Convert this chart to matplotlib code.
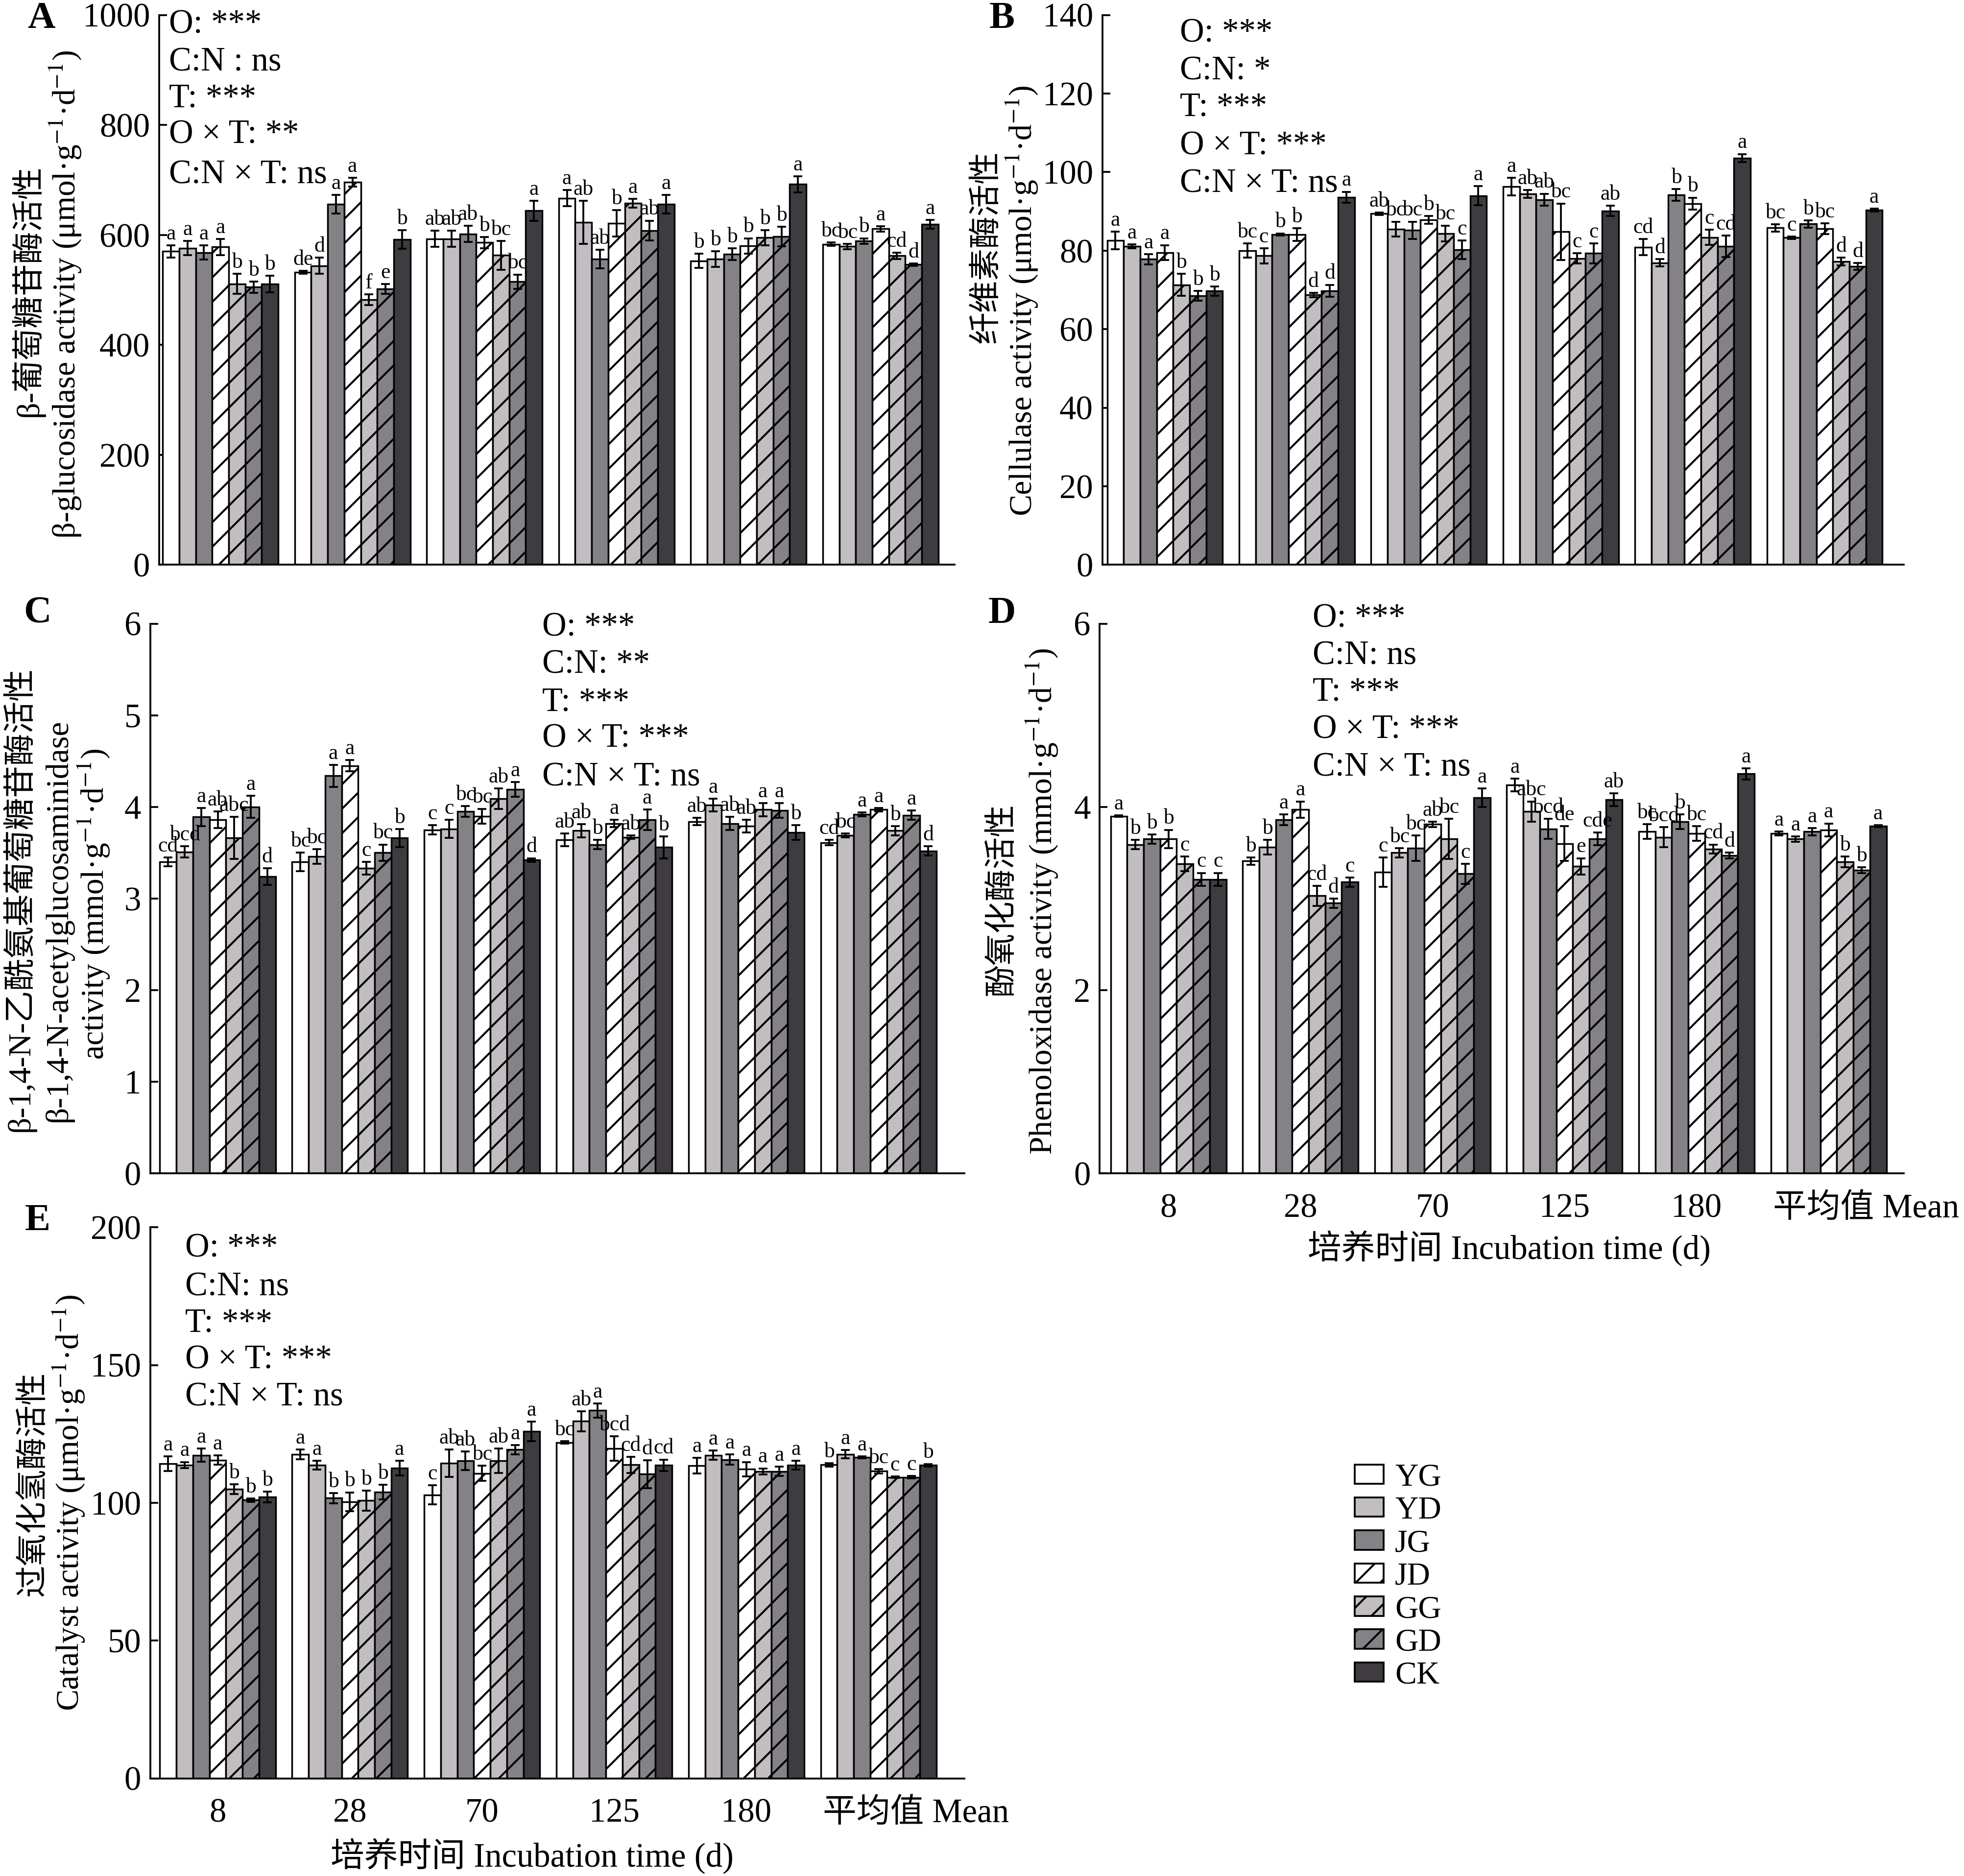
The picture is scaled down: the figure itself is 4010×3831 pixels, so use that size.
import matplotlib
matplotlib.use('Agg')
import matplotlib.pyplot as plt
import numpy as np
from matplotlib.patches import Patch
from matplotlib.transforms import ScaledTranslation

plt.rcParams['font.family'] = ['Liberation Serif', 'Noto Sans CJK SC']
plt.rcParams['mathtext.fontset'] = 'stix'
plt.rcParams['hatch.linewidth'] = 0.65
plt.rcParams['axes.linewidth'] = 0.6

# ---------------- data ----------------
groups = ['8', '28', '70', '125', '180', '平均值 Mean']
treatments = ['YG', 'YD', 'JG', 'JD', 'GG', 'GD', 'CK']

glu_mean = [[570, 576, 568, 578, 511, 505, 511],
            [532, 544, 656, 696, 482, 502, 592],
            [593, 593, 602, 586, 563, 515, 644],
            [667, 623, 556, 621, 658, 608, 656],
            [553, 556, 565, 580, 595, 597, 692],
            [583, 579, 589, 611, 562, 546, 619]]
glu_err = [[11, 13, 13, 15, 18, 10, 15],
           [3, 15, 17, 8, 10, 9, 17],
           [15, 15, 15, 10, 26, 13, 18],
           [15, 39, 17, 24, 8, 18, 17],
           [13, 14, 11, 14, 14, 18, 15],
           [3, 5, 5, 5, 6, 2, 8]]
glu_letters = ["a a a a b b b", "de d a a f e b", "ab ab ab b bc bc a",
               "a ab ab b a ab a", "b b b b b b a", "bc bc b a cd d a"]

cel_mean = [[82.6, 81.1, 77.8, 79.5, 71.3, 68.5, 69.7],
            [80.0, 78.7, 84.1, 84.1, 68.7, 69.8, 93.6],
            [89.4, 85.5, 85.2, 87.8, 84.4, 80.2, 94.0],
            [96.3, 94.4, 93.0, 84.8, 78.0, 79.3, 90.1],
            [80.9, 76.9, 94.2, 92.0, 83.4, 81.1, 103.6],
            [85.8, 83.3, 86.8, 85.6, 77.2, 76.0, 90.3]]
cel_err = [[2.2, 0.5, 1.3, 1.9, 2.8, 1.3, 1.2],
           [1.8, 1.9, 0.3, 1.6, 0.6, 1.5, 1.4],
           [0.3, 1.9, 2.2, 1.0, 2.0, 2.4, 2.4],
           [2.2, 1.0, 1.5, 7.2, 1.3, 2.5, 1.3],
           [2.1, 0.9, 1.5, 1.5, 1.9, 2.7, 1.0],
           [0.9, 0.3, 0.9, 1.4, 1.0, 0.9, 0.4]]
cel_letters = ["a a a a b b b", "bc c b b d d a", "ab bc bc b bc c a",
               "a ab ab bc c c ab", "cd d b b c cd a", "bc c b bc d d a"]

nag_mean = [[3.40, 3.51, 3.89, 3.86, 3.66, 4.00, 3.24],
            [3.40, 3.46, 4.34, 4.45, 3.33, 3.50, 3.66],
            [3.75, 3.76, 3.95, 3.90, 4.09, 4.19, 3.42],
            [3.64, 3.74, 3.59, 3.82, 3.67, 3.86, 3.56],
            [3.84, 4.02, 3.82, 3.79, 3.97, 3.96, 3.72],
            [3.61, 3.69, 3.92, 3.97, 3.74, 3.91, 3.52]]
nag_err = [[0.05, 0.06, 0.10, 0.09, 0.23, 0.12, 0.09],
           [0.10, 0.08, 0.12, 0.06, 0.07, 0.09, 0.10],
           [0.05, 0.10, 0.06, 0.08, 0.11, 0.08, 0.02],
           [0.07, 0.07, 0.05, 0.04, 0.02, 0.11, 0.12],
           [0.04, 0.07, 0.07, 0.07, 0.07, 0.08, 0.08],
           [0.03, 0.02, 0.02, 0.02, 0.05, 0.05, 0.05]]
nag_letters = ["cd bcd a ab abc a d", "bc bc a a c bc b", "c c bc bc ab a d",
               "ab ab b a ab a b", "ab a ab ab a a b", "cd bc a a b a d"]

phe_mean = [[3.90, 3.59, 3.65, 3.65, 3.38, 3.21, 3.21],
            [3.41, 3.56, 3.86, 3.97, 3.03, 2.95, 3.18],
            [3.29, 3.50, 3.55, 3.81, 3.65, 3.27, 4.10],
            [4.24, 3.95, 3.76, 3.60, 3.35, 3.65, 4.08],
            [3.73, 3.67, 3.84, 3.71, 3.54, 3.47, 4.36],
            [3.71, 3.65, 3.73, 3.75, 3.40, 3.31, 3.79]]
phe_err = [[0.01, 0.05, 0.05, 0.10, 0.08, 0.07, 0.07],
           [0.04, 0.08, 0.06, 0.09, 0.11, 0.05, 0.05],
           [0.16, 0.05, 0.14, 0.03, 0.22, 0.11, 0.10],
           [0.07, 0.11, 0.11, 0.19, 0.09, 0.07, 0.07],
           [0.08, 0.11, 0.08, 0.08, 0.05, 0.03, 0.06],
           [0.02, 0.03, 0.04, 0.07, 0.06, 0.03, 0.01]]
phe_letters = ["a b b b c c c", "b b a a cd d c", "c bc bc ab bc c a",
               "a abc bcd de e cde ab", "bc bcd b bc cd d a", "a a a a b b a"]

cat_mean = [[114.2, 113.7, 117.3, 115.5, 105.0, 101.0, 102.1],
            [117.6, 113.6, 101.7, 100.4, 100.8, 103.9, 112.6],
            [102.9, 114.4, 115.3, 110.7, 115.3, 119.3, 125.9],
            [121.9, 129.6, 133.5, 119.7, 113.8, 110.4, 113.6],
            [113.5, 117.3, 115.7, 112.2, 111.4, 111.4, 113.6],
            [113.8, 117.6, 116.5, 111.5, 109.3, 109.3, 113.6]]
cat_err = [[2.6, 1.1, 2.4, 1.7, 1.8, 0.6, 2.0],
           [1.8, 1.6, 1.9, 3.4, 3.6, 2.7, 2.7],
           [3.4, 5.0, 3.4, 2.8, 4.4, 1.7, 3.6],
           [0.5, 3.6, 2.6, 4.5, 2.9, 5.1, 2.1],
           [2.8, 1.7, 1.9, 2.6, 1.1, 1.7, 1.6],
           [0.6, 1.5, 0.3, 0.8, 0.2, 0.5, 0.5]]
cat_letters = ["a a a a b b b", "a a b b b b a", "c ab ab bc ab a a",
               "bc ab a bcd cd d cd", "a a a a a a a", "b a a bc c c b"]

stats_A = ["O: ***", "C:N : ns", "T: ***", "O × T: **", "C:N × T: ns"]
stats_B = ["O: ***", "C:N: *", "T: ***", "O × T: ***", "C:N × T: ns"]
stats_C = ["O: ***", "C:N: **", "T: ***", "O × T: ***", "C:N × T: ns"]
stats_D = ["O: ***", "C:N: ns", "T: ***", "O × T: ***", "C:N × T: ns"]
stats_E = ["O: ***", "C:N: ns", "T: ***", "O × T: ***", "C:N × T: ns"]

# ---------------- styles ----------------
colors = ['#FFFFFF', '#C1BDC1', '#848286', '#FFFFFF', '#C1BDC1', '#848286', '#3E3C40']
hatches = ['', '', '', '///', '///', '///', '']

DPI = 450
fig = plt.figure(figsize=(4010 / DPI, 3831 / DPI), dpi=DPI)
W, H = 1568.0, 1498.0


def fx(x):
    return x / W


def fy(y):
    return 1 - y / H


def rect(l, r, t, b):
    return [l / W, 1 - b / H, (r - l) / W, (b - t) / H]


FS_TICK = 11
FS_XT = 11
FS_STAT = 11
FS_LET = 7
FS_LAB = 10.5
FS_PANEL = 12.5
BW = 0.125


def draw_panel(ax, means, errs, letters, ymax, ystep, xlim, xlabels):
    ng = len(groups)
    for ti in range(len(treatments)):
        xs = np.arange(ng) + (ti - 3) * BW
        vals = [means[g][ti] for g in range(ng)]
        es = [errs[g][ti] for g in range(ng)]
        ax.bar(xs, vals, BW, color=colors[ti], edgecolor='black',
               hatch=hatches[ti], linewidth=0.55, zorder=2)
        ax.errorbar(xs, vals, yerr=es, fmt='none', ecolor='black',
                    elinewidth=0.6, capsize=1.4, capthick=0.6, zorder=3)
        for g in range(ng):
            ax.annotate(letters[g].split()[ti], (xs[g], vals[g] + es[g]),
                        xytext=(0, 0.5), textcoords='offset points',
                        ha='center', va='bottom', fontsize=FS_LET, zorder=4)
    ax.set_ylim(0, ymax)
    ax.set_xlim(*xlim)
    ax.set_yticks(np.arange(0, ymax + ystep / 2, ystep))
    ax.tick_params(axis='y', direction='in', length=2.6, width=0.6,
                   labelsize=FS_TICK, pad=3)
    ax.set_xticks(np.arange(ng))
    ax.tick_params(axis='x', direction='in', length=2.6, width=0.6,
                   labelsize=FS_XT, pad=6.5)
    for s in ['top', 'right']:
        ax.spines[s].set_visible(False)
    if xlabels:
        ax.set_xticklabels(groups)
        lab = ax.get_xticklabels()[-1]
        lab.set_transform(lab.get_transform() +
                          ScaledTranslation(0.17, 0, fig.dpi_scale_trans))
    else:
        ax.set_xticklabels([])


def stats(lines, x, ys):
    for t, y in zip(lines, ys):
        fig.text(fx(x), fy(y), t, fontsize=FS_STAT, ha='left', va='center')


def panel_letter(t, x, y):
    fig.text(fx(x), fy(y), t, fontsize=FS_PANEL, fontweight='bold', ha='center', va='center')


def ylab(t, x, y):
    fig.text(fx(x), fy(y), t, rotation=90, ha='center', va='center', fontsize=FS_LAB)


# Panel A
axA = fig.add_axes(rect(127, 762, 12, 451))
draw_panel(axA, glu_mean, glu_err, glu_letters, 1000, 200, (-0.465, 5.56), False)
stats(stats_A, 135, [20, 50, 79, 108, 140])
ylab('β-葡萄糖苷酶活性', 22, 232)
ylab('β-glucosidase activity (μmol·g$^{-1}$·d$^{-1}$)', 52, 235)
panel_letter('A', 33, 15)

# Panel B
axB = fig.add_axes(rect(880, 1520, 12, 451))
draw_panel(axB, cel_mean, cel_err, cel_letters, 140, 20, (-0.475, 5.6), False)
stats(stats_B, 942, [27, 57, 86, 117, 147])
ylab('纤维素酶活性', 788, 197)
ylab('Cellulase activity (μmol·g$^{-1}$·d$^{-1}$)', 816, 240)
panel_letter('B', 800, 15)

# Panel C
axC = fig.add_axes(rect(120, 770, 498, 937))
draw_panel(axC, nag_mean, nag_err, nag_letters, 6, 1, (-0.51, 5.65), False)
stats(stats_C, 433, [501, 531, 561, 590, 621])
ylab('β-1,4-N-乙酰氨基葡萄糖苷酶活性', 15, 718)
ylab('β-1,4-N-acetylglucosaminidase', 47, 735)
ylab('activity (mmol·g$^{-1}$·d$^{-1}$)', 75, 722)
panel_letter('C', 30, 490)

# Panel D
axD = fig.add_axes(rect(878, 1520, 498, 937))
draw_panel(axD, phe_mean, phe_err, phe_letters, 6, 2, (-0.52, 5.57), True)
stats(stats_D, 1048, [494, 524, 553, 583, 613])
ylab('酚氧化酶活性', 800, 718)
ylab('Phenoloxidase activity (mmol·g$^{-1}$·d$^{-1}$)', 832, 720)
panel_letter('D', 800, 490)
fig.text(fx(1205), fy(997), '培养时间 Incubation time (d)', ha='center', va='center', fontsize=FS_XT)

# Panel E
axE = fig.add_axes(rect(120, 770, 980, 1420))
draw_panel(axE, cat_mean, cat_err, cat_letters, 200, 50, (-0.51, 5.65), True)
stats(stats_E, 148, [997, 1028, 1057, 1086, 1116])
ylab('过氧化氢酶活性', 27, 1185)
ylab('Catalyst activity (μmol·g$^{-1}$·d$^{-1}$)', 55, 1200)
panel_letter('E', 30, 975)
fig.text(fx(425), fy(1482), '培养时间 Incubation time (d)', ha='center', va='center', fontsize=FS_XT)

# Legend
handles = [Patch(facecolor=colors[i], edgecolor='black', hatch=hatches[i], linewidth=0.6,
                 label=treatments[i]) for i in range(len(treatments))]
fig.legend(handles=handles, loc='upper left', bbox_to_anchor=(2766 / 4010, 1 - 2988 / 3831),
           frameon=False, fontsize=10.5, handlelength=0.9, handleheight=0.55,
           handletextpad=0.35, labelspacing=0.12, borderpad=0, borderaxespad=0)

fig.savefig('out.png', dpi=DPI)
